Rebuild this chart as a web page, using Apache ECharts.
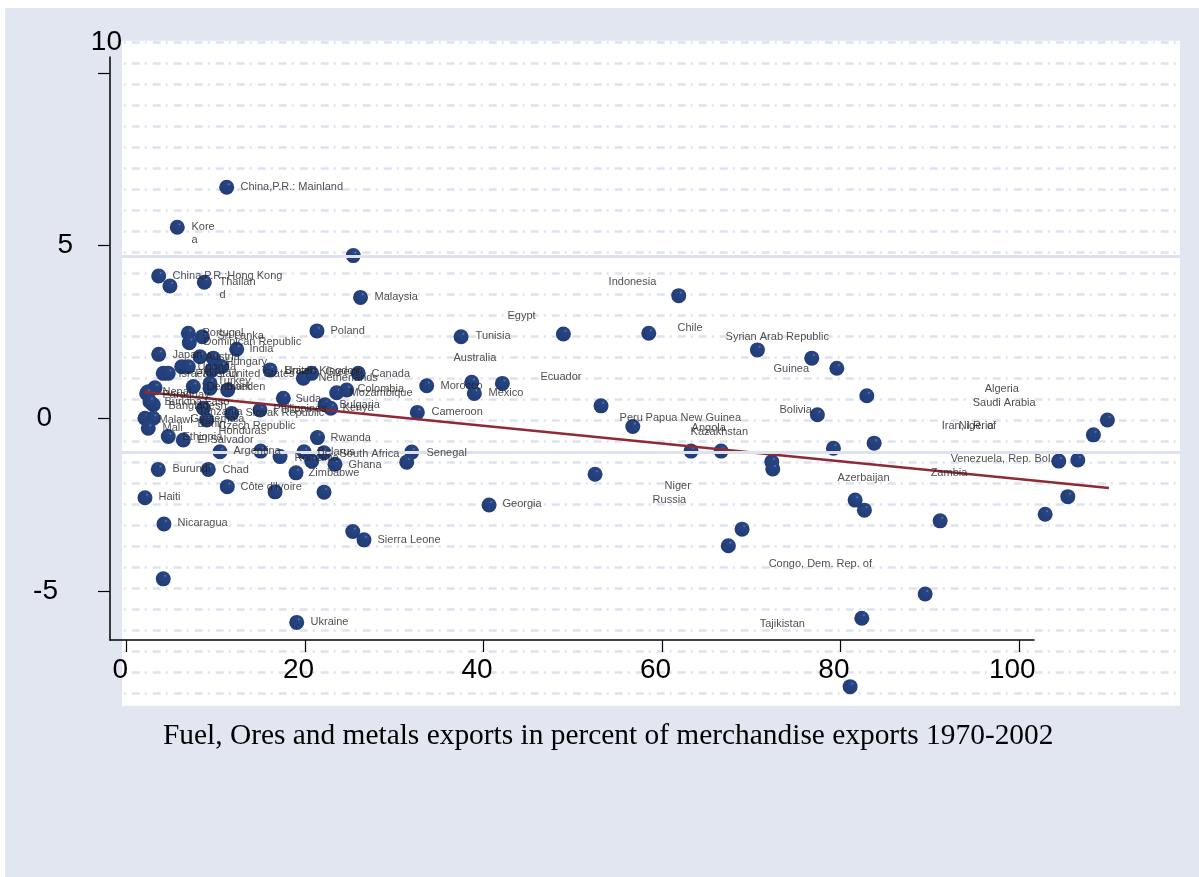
<!DOCTYPE html>
<html><head><meta charset="utf-8">
<script src="https://cdn.jsdelivr.net/npm/echarts@6/dist/echarts.min.js"></script>
<style>
html,body{margin:0;padding:0;background:#fff;width:1199px;height:877px;overflow:hidden}
#bg{position:absolute;left:5px;top:8px;width:1194px;height:869px;background:#e1e6f1}
#main{position:absolute;left:0;top:0;width:1199px;height:877px}
</style></head>
<body><div id="bg"></div><div id="main"></div>
<script>
const pointX = [11.21,5.67,25.40,3.59,4.85,8.70,26.21,21.33,6.91,7.02,8.48,12.33,3.59,37.48,48.95,61.88,58.52,70.70,76.79,79.60,82.96,77.42,53.17,56.73,63.26,66.63,72.31,72.42,79.22,83.78,52.50,81.65,82.69,68.98,67.44,89.50,82.40,81.09,109.93,108.36,104.48,106.61,105.49,102.95,91.18,40.62,25.34,26.60,31.95,31.39,32.58,33.63,38.68,38.97,42.11,25.96,23.54,24.66,19.80,20.74,22.23,22.87,17.56,21.39,19.88,20.74,22.12,23.35,18.98,22.12,16.63,11.28,9.15,3.54,2.05,4.18,4.10,19.06,10.46,15.02,17.19,2.42,3.17,2.24,2.98,2.61,7.47,9.34,11.32,2.05,2.98,2.42,4.66,6.35,8.59,8.97,11.77,14.94,4.10,4.66,6.17,6.91,8.22,9.71,9.53,10.65,16.07,9.34];
const pointY = [6.69,5.53,4.71,4.12,3.83,3.94,3.50,2.53,2.46,2.19,2.36,2.00,1.85,2.36,2.44,3.55,2.46,1.98,1.74,1.45,0.65,0.10,0.36,-0.24,-0.95,-0.95,-1.26,-1.47,-0.87,-0.72,-1.62,-2.37,-2.66,-3.21,-3.69,-5.09,-5.79,-7.77,-0.05,-0.48,-1.24,-1.21,-2.27,-2.78,-2.97,-2.51,-3.28,-3.52,-0.98,-1.27,0.17,0.94,1.04,0.72,1.01,1.30,0.74,0.82,1.16,1.30,0.39,0.29,0.58,-0.56,-0.97,-1.24,-1.00,-1.33,-1.58,-2.14,-2.13,-1.98,-1.48,-1.48,-2.30,-3.06,-4.65,-5.91,-0.97,-0.95,-1.11,0.77,0.88,0.72,0.39,0.48,0.92,0.87,0.82,0.00,0.00,-0.29,-0.53,-0.63,0.29,-0.05,0.14,0.24,1.30,1.30,1.49,1.49,1.78,1.74,1.40,1.49,1.40,1.01];

const labelText = ['China,P.R.: Mainland','Kore\na','China,P.R.:Hong Kong','Thailan\nd','Malaysia','Poland','Portugal','Sri Lanka','Dominican Republic','India','Japan','Tunisia','Egypt','Australia','Ecuador','Indonesia','Chile','Syrian Arab Republic','Guinea','Bolivia','Peru','Papua New Guinea','Angola','Kazakhstan','Niger','Russia','Azerbaijan','Congo, Dem. Rep. of','Tajikistan','Algeria','Saudi Arabia','Iran, I.R. of','Nigeria','Venezuela, Rep. Bol.','Zambia','Morocco','Mexico','Cameroon','Canada','Colombia','Mozambique','Netherlands','United Kingdom','Brazil','Greece','Suda','Bulgaria','Kenya','Philippines','Slovak Republic','Rwanda','Argentina','Romania','Belarus','South Africa','Ghana','Senegal','Zimbabwe','Burundi','Chad',"Côte d'Ivoire",'Haiti','Nicaragua','Georgia','Sierra Leone','Ukraine','Nepal','Paraguay','Burkina Faso','Bangladesh','Tanzania','Malawi','Guatemala','Benin','Czech Republic','Honduras','Mali','Ethiopia','El Salvador','Austria','Hungary','Uganda','United States','Israel','Pakistan','Turkey','Denmark','Sweden'];
const labelX = [12.70,7.21,5.08,10.35,27.72,22.79,8.44,10.12,8.55,13.71,5.08,39.05,42.63,36.58,46.33,53.96,61.69,67.07,72.45,73.12,55.19,58.11,63.26,63.15,60.24,58.89,79.63,71.90,70.89,96.11,94.77,91.30,93.20,92.30,90.06,35.12,40.50,34.11,27.39,25.82,24.93,21.45,17.63,17.63,22.20,18.87,23.80,24.14,16.40,13.26,22.79,11.92,18.76,21.33,23.80,24.81,33.55,20.33,5.08,10.68,12.70,3.51,5.64,42.07,28.06,20.55,3.96,3.96,4.18,4.63,7.99,3.51,7.10,7.88,10.24,10.24,3.96,6.20,7.88,8.78,11.02,7.88,11.36,5.75,7.65,10.12,8.89,11.02];
const labelY = [6.70,5.35,4.12,3.76,3.52,2.53,2.47,2.38,2.21,2.01,1.83,2.38,2.96,1.75,1.20,3.95,2.62,2.35,1.43,0.24,0.01,0.01,-0.28,-0.40,-1.96,-2.36,-1.72,-4.22,-5.95,0.85,0.44,-0.22,-0.22,-1.18,-1.58,0.94,0.73,0.18,1.28,0.85,0.73,1.17,1.37,1.37,1.35,0.56,0.39,0.30,0.27,0.15,-0.57,-0.95,-1.15,-0.98,-1.03,-1.35,-1.01,-1.58,-1.46,-1.49,-1.98,-2.27,-3.03,-2.49,-3.52,-5.90,0.76,0.68,0.47,0.36,0.18,-0.05,-0.02,-0.16,-0.22,-0.37,-0.28,-0.54,-0.63,1.78,1.63,1.49,1.28,1.28,1.28,1.08,0.91,0.91];

const fitX = [1.94, 110.1];
const fitY = [0.76, -2.02];

const xTicks = [0, 20, 40, 60, 80, 100];
const yTicks = [-5, 0, 5, 10];
const xTitle = 'Fuel, Ores and metals exports in percent of merchandise exports 1970-2002';

const chart = echarts.init(document.getElementById('main'), null, {renderer: 'canvas'});

const markerColor = {
  type: 'radial', x: 0.64, y: 0.3, r: 0.7,
  colorStops: [{offset: 0, color: '#6a82b8'}, {offset: 0.14, color: '#284583'}, {offset: 1, color: '#213c76'}]
};

const yRich = {
  a: {fontSize: 28, fontFamily: 'Liberation Sans', color: '#000', padding: [0, 0, 62, 0]},
  b: {fontSize: 28, fontFamily: 'Liberation Sans', color: '#000', padding: [0, 49, 0, 0]},
  c: {fontSize: 28, fontFamily: 'Liberation Sans', color: '#000', padding: [0, 70, 0, 0]},
  d: {fontSize: 28, fontFamily: 'Liberation Sans', color: '#000', padding: [0, 64, 0, 0]}
};
const yKey = {'10': 'a', '5': 'b', '0': 'c', '-5': 'd'};

const option = {
  backgroundColor: 'transparent',
  animation: false,
  title: {
    text: xTitle, left: 158, top: 717,
    textStyle: {fontFamily: 'Liberation Serif', fontSize: 29.4, fontWeight: 'normal', color: '#000'}
  },
  graphic: [
    {type: 'rect', z: -5, silent: true, shape: {x: 122, y: 40.7, width: 1058, height: 665}, style: {fill: '#ffffff'}}
  ],
  grid: [
    {left: 110, top: 57, width: 924, height: 583, containLabel: false},
    {left: 122, top: 42.3, width: 1058, height: 651, containLabel: false},
    {left: 110, top: 57, width: 1015.9, height: 583, containLabel: false}
  ],
  xAxis: [
    {
      type: 'value', gridIndex: 0, min: -1.87, max: 101.7,
      axisLine: {show: true, onZero: false, lineStyle: {color: '#000', width: 1.5}},
      axisTick: {show: true, length: 12, customValues: xTicks, lineStyle: {color: '#000', width: 1.2}},
      axisLabel: {customValues: xTicks, fontSize: 28, fontFamily: 'Liberation Sans', color: '#000', margin: 16, padding: [0, 13, 0, 0]},
      splitLine: {show: false}
    },
    {type: 'value', gridIndex: 1, min: 0, max: 1, show: false},
    {type: 'value', gridIndex: 2, min: -1.87, max: 112, show: false}
  ],
  yAxis: [
    {
      type: 'value', gridIndex: 0, min: -6.42, max: 10.46,
      axisLine: {show: true, onZero: false, lineStyle: {color: '#000', width: 1.5}},
      axisTick: {show: true, length: 12, customValues: yTicks, lineStyle: {color: '#000', width: 1.2}},
      axisLabel: {
        customValues: yTicks, margin: -12, align: 'right',
        formatter: v => '{' + yKey[String(v)] + '|' + v + '}',
        rich: yRich
      },
      splitLine: {show: false}
    },
    {
      type: 'value', gridIndex: 1, min: 0, max: 31, interval: 1, inverse: true,
      axisLine: {show: false}, axisTick: {show: false}, axisLabel: {show: false},
      splitLine: {show: true, lineStyle: {color: '#dde2ee', width: 2.5, type: [8, 5, 2, 6], dashOffset: 11.3}}
    },
    {type: 'value', gridIndex: 2, min: -6.42, max: 10.46, show: false}
  ],
  series: [
    {
      type: 'scatter', xAxisIndex: 1, yAxisIndex: 1, data: [], z: 1, silent: true,
      markLine: {
        silent: true, symbol: 'none', label: {show: false},
        lineStyle: {color: '#dde2ee', width: 3, type: 'solid'},
        data: [{yAxis: 10.18}, {yAxis: 19.51}]
      }
    },
    {
      type: 'scatter', xAxisIndex: 0, yAxisIndex: 0, clip: false, z: 3,
      symbolSize: 15,
      itemStyle: {color: markerColor, opacity: 1},
      data: pointX.map((x, i) => [x, pointY[i]])
    },
    {
      type: 'line', xAxisIndex: 2, yAxisIndex: 2, clip: false, z: 4,
      symbol: 'none', lineStyle: {color: '#8e2a35', width: 2.5},
      data: fitX.map((x, i) => [x, fitY[i]])
    },
    {
      type: 'scatter', xAxisIndex: 0, yAxisIndex: 0, clip: false, z: 5,
      symbolSize: 1, itemStyle: {color: 'rgba(0,0,0,0)'},
      label: {
        show: true, position: 'right', distance: 0,
        formatter: p => labelText[p.dataIndex],
        fontSize: 11, fontFamily: 'Liberation Sans', color: '#222', lineHeight: 13
      },
      labelLayout: {hideOverlap: false},
      data: labelX.map((x, i) => [x, labelY[i]])
    }
  ]
};
chart.setOption(option);
</script>
</body></html>
